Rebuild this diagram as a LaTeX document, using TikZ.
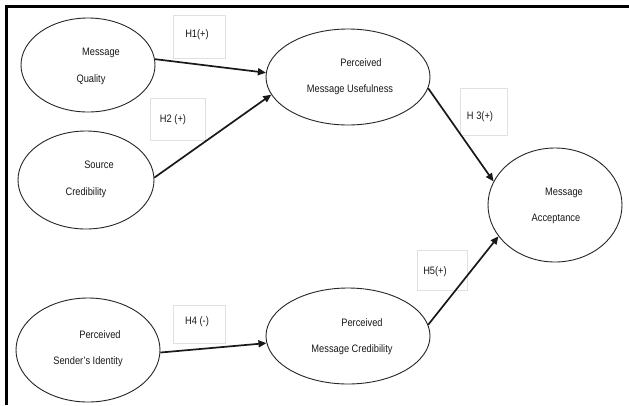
\documentclass[tikz,border=0pt]{standalone}
\usepackage{fontspec}
\setmainfont{Liberation Sans}[FakeStretch=0.86]
\usetikzlibrary{shapes.geometric,arrows.meta}
\begin{document}
\begin{tikzpicture}[x=1pt,y=-1pt,
  construct/.style={draw=black!85,line width=0.9pt,ellipse,inner sep=0pt},
  lbl/.style={font=\fontsize{10.8}{12}\selectfont,text=black!90,inner sep=0pt},
  hbox/.style={draw=black!12,line width=0.7pt},
  hyp/.style={-{Triangle[length=8pt,width=7pt]},line width=1.7pt,black!90}]
\useasboundingbox (0,0) rectangle (629,405);
\fill[white] (0,0) rectangle (629,405);
% frame
\draw[line width=3pt,black] (6,405) -- (6,6) -- (629,6);
% hypothesis label boxes
\draw[hbox] (173,15) rectangle (225,58);
\draw[hbox] (150,98) rectangle (205,140);
\draw[hbox] (460,88) rectangle (507,135);
\draw[hbox] (173,305) rectangle (225,343);
\draw[hbox] (417,250) rectangle (467,290);
% constructs
\node[construct,minimum width=134pt,minimum height=94pt] (mq) at (88,65) {};
\node[construct,minimum width=136pt,minimum height=98pt] (sc) at (86,180) {};
\node[construct,minimum width=164pt,minimum height=96pt] (pmu) at (348,77) {};
\node[construct,minimum width=134pt,minimum height=114pt] (ma) at (555,205) {};
\node[construct,minimum width=144pt,minimum height=104pt] (psi) at (88,350) {};
\node[construct,minimum width=164pt,minimum height=96pt] (pmc) at (348,336) {};
% construct texts
\node[lbl] (mq1) at (101,53) {Message};
\node[lbl] (mq2) at (91,80) {Quality};
\node[lbl] (sc1) at (99,165) {Source};
\node[lbl] (sc2) at (86,193) {Credibility};
\node[lbl] (pmu1) at (361,63) {Perceived};
\node[lbl] (pmu2) at (350,90) {Message Usefulness};
\node[lbl] (ma1) at (564,193) {Message};
\node[lbl] (ma2) at (556,219) {Acceptance};
\node[lbl] (psi1) at (100,335) {Perceived};
\node[lbl] (psi2) at (88,362) {Sender's Identity};
\node[lbl] (pmc1) at (362,323) {Perceived};
\node[lbl] (pmc2) at (352,350) {Message Credibility};
% hypothesis labels
\node[lbl] (h1) at (197,35) {H1(+)};
\node[lbl] (h2) at (173,120) {H2 (+)};
\node[lbl] (h3) at (480,117) {H 3(+)};
\node[lbl] (h4) at (197,322) {H4 (-)};
\node[lbl] (h5) at (435,272) {H5(+)};
% hypotheses
\draw[hyp] (mq.5) -- (pmu.177);
\draw[hyp] (sc.2) -- (pmu.193);
\draw[hyp] (pmu.352) -- (ma.159);
\draw[hyp] (psi.358) -- (pmc.185);
\draw[hyp] (pmc.8) -- (ma.209);
\end{tikzpicture}
\end{document}
